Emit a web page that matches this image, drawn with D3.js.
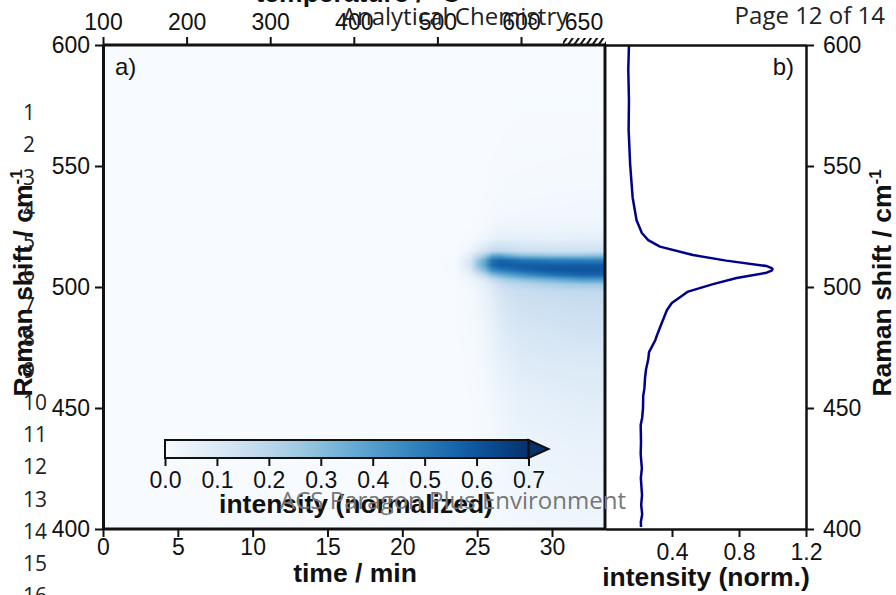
<!DOCTYPE html>
<html>
<head>
<meta charset="utf-8">
<script src="https://cdn.jsdelivr.net/npm/d3@7"></script>
<style>
    html, body { margin: 0; padding: 0; background: #fff; overflow: hidden; }
    text { font-family: "Liberation Sans", Arial, sans-serif; fill: #111; }
    .tick text { font-size: 23px; }
    .title { font-size: 26.5px; font-weight: bold; }
    .page { font-family: "Open Sans", sans-serif; font-size: 24px; fill: #222; }
    .lineNo { font-family: "Open Sans", sans-serif; font-size: 21px; fill: #222; }
</style>
</head>
<body>
<div id="chart"></div>
<script>
// Heatmap grid
const timeGrid = [0, 12, 22, 23.5, 24.5, 25, 25.5, 26, 26.5, 27, 28, 30, 32, 33.5];
const shiftGrid = [600, 570, 540, 530, 525, 520, 515, 513, 511, 509, 507, 505, 503, 501, 498, 494, 488, 480, 470, 455, 435, 400];
const intensityGrid = [
    [0, 0, 0, 0, 0, 0, 0, 0, 0, 0, 0, 0, 0, 0],
    [0, 0, 0, 0, 0, 0, 0, 0, 0, .002, .003, .003, .003, .003],
    [0, 0, 0, 0, 0, 0, .002, .005, .008, .01, .01, .012, .014, .014],
    [0, 0, 0, 0, 0, .002, .006, .012, .018, .02, .02, .022, .025, .025],
    [0, 0, 0, 0, .002, .005, .012, .022, .03, .032, .032, .034, .036, .036],
    [0, 0, 0, 0, .008, .018, .03, .055, .07, .07, .065, .06, .065, .07],
    [0, 0, 0, .002, .035, .08, .12, .17, .18, .17, .15, .14, .14, .14],
    [0, 0, 0, .004, .07, .17, .25, .36, .39, .35, .3, .28, .28, .3],
    [0, 0, 0, .006, .1, .25, .36, .52, .56, .55, .52, .5, .49, .48],
    [0, 0, 0, .006, .11, .27, .38, .54, .58, .58, .58, .58, .58, .58],
    [0, 0, 0, .005, .09, .22, .31, .45, .5, .52, .56, .6, .6, .6],
    [0, 0, 0, .004, .05, .13, .2, .3, .35, .38, .44, .52, .56, .56],
    [0, 0, 0, .003, .03, .065, .1, .17, .22, .25, .29, .35, .41, .41],
    [0, 0, 0, .002, .018, .04, .065, .11, .15, .18, .2, .24, .26, .26],
    [0, 0, 0, .002, .014, .03, .05, .08, .12, .14, .16, .17, .18, .18],
    [0, 0, 0, .002, .012, .025, .045, .07, .105, .125, .145, .155, .165, .165],
    [0, 0, 0, .001, .01, .02, .038, .06, .09, .11, .13, .14, .15, .15],
    [0, 0, 0, .001, .008, .016, .03, .05, .075, .09, .11, .12, .13, .13],
    [0, 0, 0, 0, .005, .012, .022, .038, .055, .07, .09, .1, .1, .1],
    [0, 0, 0, 0, .003, .007, .014, .024, .035, .045, .06, .07, .08, .08],
    [0, 0, 0, 0, .001, .004, .008, .014, .02, .028, .04, .045, .05, .05],
    [0, 0, 0, 0, 0, .002, .004, .008, .012, .016, .02, .025, .03, .03]
];

// Averaged spectrum in panel b)
const spectrumShift = [600, 590, 577, 565, 550.8, 537, 528.9, 527.7, 522.3, 519.4, 516.7, 513.2, 510.9, 508.7, 507.8, 507.4, 506.8, 505.9, 503.7, 501.2, 498.1, 493.4, 490.5, 483.6, 480, 478, 473.1, 470, 466, 462.4, 458, 455, 450, 446, 443, 436, 431, 425, 421, 414, 410, 406, 403, 400.8];
const spectrumValue = [.143, .139, .143, .141, .150, .165, .185, .188, .220, .258, .328, .525, .724, .963, .995, 1.0, .995, .965, .786, .645, .496, .399, .37, .33, .31, .30, .263, .258, .245, .239, .235, .228, .227, .222, .213, .215, .213, .220, .214, .221, .216, .222, .214, .215];

// Axis ticks
const timeTicks = [0, 5, 10, 15, 20, 25, 30];
const shiftTicks = [400, 450, 500, 550, 600];
const tempTicks = [100, 200, 300, 400, 500, 600];
const normTicks = [0.4, 0.8, 1.2];
const barTicks = [0, 0.1, 0.2, 0.3, 0.4, 0.5, 0.6, 0.7];
const pageLines = d3.range(1, 17);

const width = 896, height = 595;
const plotLeft = 103, plotMid = 605, plotRight = 806, plotTop = 45, plotBottom = 529;

const svg = d3.select("#chart").append("svg")
    .attr("width", width)
    .attr("height", height)
    .style("display", "block");

const x = d3.scaleLinear().domain([0, 30]).range([plotLeft, 552]);
const xTemp = d3.scaleLinear().domain([100, 600]).range([plotLeft, 521]);
const y = d3.scaleLinear().domain([400, 600]).range([plotBottom, plotTop]);
const xNorm = d3.scaleLinear().domain([0, 1.2]).range([plotMid, plotRight]);
const xBar = d3.scaleLinear().domain([0, 0.7]).range([165, 528.5]);
const color = d3.scaleSequential(d3.interpolateBlues).domain([0, 0.7]);

const defs = svg.append("defs");
const hatch = defs.append("pattern").attr("id", "hatch")
    .attr("patternUnits", "userSpaceOnUse")
    .attr("width", 5).attr("height", 5)
    .attr("patternTransform", "rotate(35)");
hatch.append("rect").attr("width", 2).attr("height", 5).attr("fill", "#111");

// Heatmap painted to a canvas, with bilinear shading between grid nodes
const shiftsUp = shiftGrid.map(d => -d);
function gridSpot(arr, v) {
    const i = Math.max(0, Math.min(arr.length - 2, d3.bisectRight(arr, v) - 1));
    return [i, Math.max(0, Math.min(1, (v - arr[i]) / (arr[i + 1] - arr[i])))];
}
const heatW = plotMid - plotLeft, heatH = plotBottom - plotTop;
const canvas = document.createElement("canvas");
canvas.width = heatW;
canvas.height = heatH;
const ctx = canvas.getContext("2d");
for (let py = 0; py < heatH; py++) {
    const [r, fr] = gridSpot(shiftsUp, -y.invert(plotTop + py + 0.5));
    for (let px = 0; px < heatW; px++) {
        const [c, fc] = gridSpot(timeGrid, x.invert(plotLeft + px + 0.5));
        const a = intensityGrid[r][c] * (1 - fc) + intensityGrid[r][c + 1] * fc;
        const b = intensityGrid[r + 1][c] * (1 - fc) + intensityGrid[r + 1][c + 1] * fc;
        ctx.fillStyle = color(a * (1 - fr) + b * fr);
        ctx.fillRect(px, py, 1, 1);
    }
}
svg.append("image")
    .attr("x", plotLeft).attr("y", plotTop)
    .attr("width", heatW).attr("height", heatH)
    .attr("href", canvas.toDataURL());

// Spectrum
svg.append("path")
    .datum(d3.zip(spectrumShift, spectrumValue))
    .attr("fill", "none")
    .attr("stroke", "#00008b")
    .attr("stroke-width", 2.5)
    .attr("stroke-linejoin", "round")
    .attr("d", d3.line().x(d => xNorm(d[1])).y(d => y(d[0])));

// Axes
function styleAxis(g, w) {
    g.selectAll(".domain").attr("stroke", "#111").attr("stroke-width", w);
    g.selectAll(".tick line").attr("stroke", "#111").attr("stroke-width", 2);
}
svg.append("g")
    .attr("transform", `translate(0,${plotBottom})`)
    .call(d3.axisBottom(x).tickValues(timeTicks).tickSize(8).tickPadding(2).tickSizeOuter(0))
    .call(g => g.select(".domain").attr("d", `M${plotLeft},0H${plotMid}`))
    .call(styleAxis, 3);
svg.append("g")
    .attr("transform", `translate(0,${plotTop})`)
    .call(d3.axisTop(xTemp).tickValues(tempTicks).tickSize(8).tickPadding(7).tickSizeOuter(0))
    .call(g => g.select(".domain").attr("d", `M${plotLeft},0H${plotMid}`))
    .call(styleAxis, 3);
svg.append("g")
    .attr("transform", `translate(${plotLeft},0)`)
    .call(d3.axisLeft(y).tickValues(shiftTicks).tickSize(8).tickPadding(5).tickSizeOuter(0))
    .call(styleAxis, 3);
svg.append("line")
    .attr("x1", plotMid).attr("x2", plotMid).attr("y1", plotTop - 1).attr("y2", plotBottom + 1)
    .attr("stroke", "#111").attr("stroke-width", 3);
svg.append("g")
    .attr("transform", `translate(0,${plotBottom})`)
    .call(d3.axisBottom(xNorm).tickValues(normTicks).tickSize(8).tickPadding(7).tickSizeOuter(0))
    .call(styleAxis, 2.5);
svg.append("g")
    .attr("transform", `translate(0,${plotTop})`)
    .call(d3.axisTop(xNorm).tickValues([]).tickSize(0).tickSizeOuter(0))
    .call(styleAxis, 2.5);
svg.append("g")
    .attr("transform", `translate(${plotRight},0)`)
    .call(d3.axisRight(y).tickValues(shiftTicks).tickSize(8).tickPadding(9).tickSizeOuter(0))
    .call(styleAxis, 2.5);

// Hatched hold at the end of the temperature axis
svg.append("rect")
    .attr("x", 563).attr("y", plotTop - 7)
    .attr("width", 43).attr("height", 7)
    .attr("fill", "url(#hatch)");
svg.append("text")
    .attr("x", 584).attr("y", 30)
    .attr("text-anchor", "middle").style("font-size", "23px")
    .text("650");

// Colour bar
const gradient = defs.append("linearGradient").attr("id", "bar");
d3.range(0, 0.701, 0.05).forEach(v => {
    gradient.append("stop").attr("offset", v / 0.7).attr("stop-color", color(v));
});
const bar = svg.append("g");
bar.append("path")
    .attr("d", `M${xBar(0.7)},440L${xBar(0.7) + 20},449L${xBar(0.7)},458Z`)
    .attr("fill", color(0.7))
    .attr("stroke", "#111").attr("stroke-width", 2);
bar.append("rect")
    .attr("x", xBar(0)).attr("y", 440)
    .attr("width", xBar(0.7) - xBar(0)).attr("height", 18)
    .attr("fill", "url(#bar)")
    .attr("stroke", "#111").attr("stroke-width", 2);
svg.append("g")
    .attr("transform", "translate(0,458)")
    .call(d3.axisBottom(xBar).tickValues(barTicks).tickFormat(d3.format(".1f")).tickSize(8).tickPadding(6).tickSizeOuter(0))
    .call(g => g.select(".domain").remove())
    .call(styleAxis, 2);

// Panel letters and titles
svg.append("text").attr("x", 115).attr("y", 75).style("font-size", "24px").text("a)");
svg.append("text").attr("x", 794).attr("y", 75).attr("text-anchor", "end").style("font-size", "24px").text("b)");
svg.append("text").attr("class", "title").attr("x", 355).attr("y", 582).attr("text-anchor", "middle").text("time / min");
svg.append("text").attr("class", "title").attr("x", 706).attr("y", 586).attr("text-anchor", "middle").text("intensity (norm.)");
svg.append("text").attr("class", "title").attr("x", 356).attr("y", 513).attr("text-anchor", "middle").text("intensity (normalized)");
svg.append("text").attr("class", "title").attr("x", 358).attr("y", 2).attr("text-anchor", "middle").text("temperature / °C");

function ramanLabel(px) {
    const t = svg.append("text").attr("class", "title")
        .attr("transform", `translate(${px},283) rotate(-90)`)
        .attr("text-anchor", "middle")
        .text("Raman shift / cm");
    t.append("tspan").attr("dy", -10).style("font-size", "17px").text("-1");
}
ramanLabel(32);
ramanLabel(891);

// Manuscript page overlay
svg.append("g").selectAll("text")
    .data(pageLines)
    .enter().append("text")
    .attr("class", "lineNo")
    .attr("x", 23)
    .attr("y", d => 88 + d * 32.2)
    .text(d => d);
svg.append("text").attr("class", "page").attr("x", 455).attr("y", 25).attr("text-anchor", "middle").text("Analytical Chemistry");
svg.append("text").attr("class", "page").attr("x", 885).attr("y", 24).attr("text-anchor", "end").text("Page 12 of 14");
svg.append("text").attr("class", "page").attr("x", 453).attr("y", 509).attr("text-anchor", "middle")
    .style("fill", "#777").text("ACS Paragon Plus Environment");
</script>
</body>
</html>
